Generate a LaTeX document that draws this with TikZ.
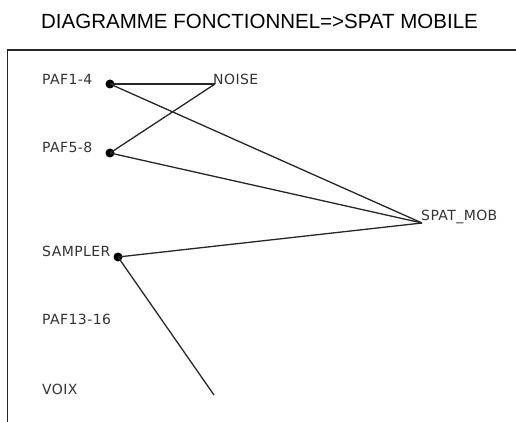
\documentclass[tikz,border=0pt]{standalone}
\usepackage{fontspec}
\setmainfont{Liberation Sans}
\newfontfamily\labfont[LetterSpace=3]{DejaVu Sans}
\begin{document}
\begin{tikzpicture}[x=1pt,y=-1pt,
  lab/.style={font=\labfont\fontsize{14}{15}\selectfont, text=black!80, inner sep=0pt, anchor=west},
  dot/.style={circle, fill=black, inner sep=0pt, minimum size=9pt},
  wire/.style={line width=1.3pt, black!85}]
\useasboundingbox (0,0) rectangle (516,422);
\node[font=\fontsize{20.5}{23}\selectfont, inner sep=0pt] (title) at (259.5,21.5) {DIAGRAMME FONCTIONNEL=>SPAT MOBILE};
\draw[line width=1.4pt, black!85] (516,50) -- (7.5,50) -- (7.5,422);
\node[lab] (paf1) at (42,79) {PAF1-4};
\node[lab] (paf5) at (42,147) {PAF5-8};
\node[lab] (sampler) at (42,251) {SAMPLER};
\node[lab] (paf13) at (42,319) {PAF13-16};
\node[lab] (voix) at (42,389) {VOIX};
\node[lab] (noise) at (213,79) {NOISE};
\node[lab] (spat) at (421,217) {SPAT\_MOB};
\node[dot] (d1) at (110,84) {};
\node[dot] (d5) at (110,153) {};
\node[dot] (ds) at (118,257) {};
\coordinate (sp) at (422,223);
\coordinate (no) at (215,84);
\coordinate (vend) at (214,395);
\draw[wire] (d1.center) -- (no);
\draw[wire] (no) -- (d5.center);
\draw[wire] (d1.center) -- (sp);
\draw[wire] (d5.center) -- (sp);
\draw[wire] (ds.center) -- (sp);
\draw[wire] (ds.center) -- (vend);
\end{tikzpicture}
\end{document}
